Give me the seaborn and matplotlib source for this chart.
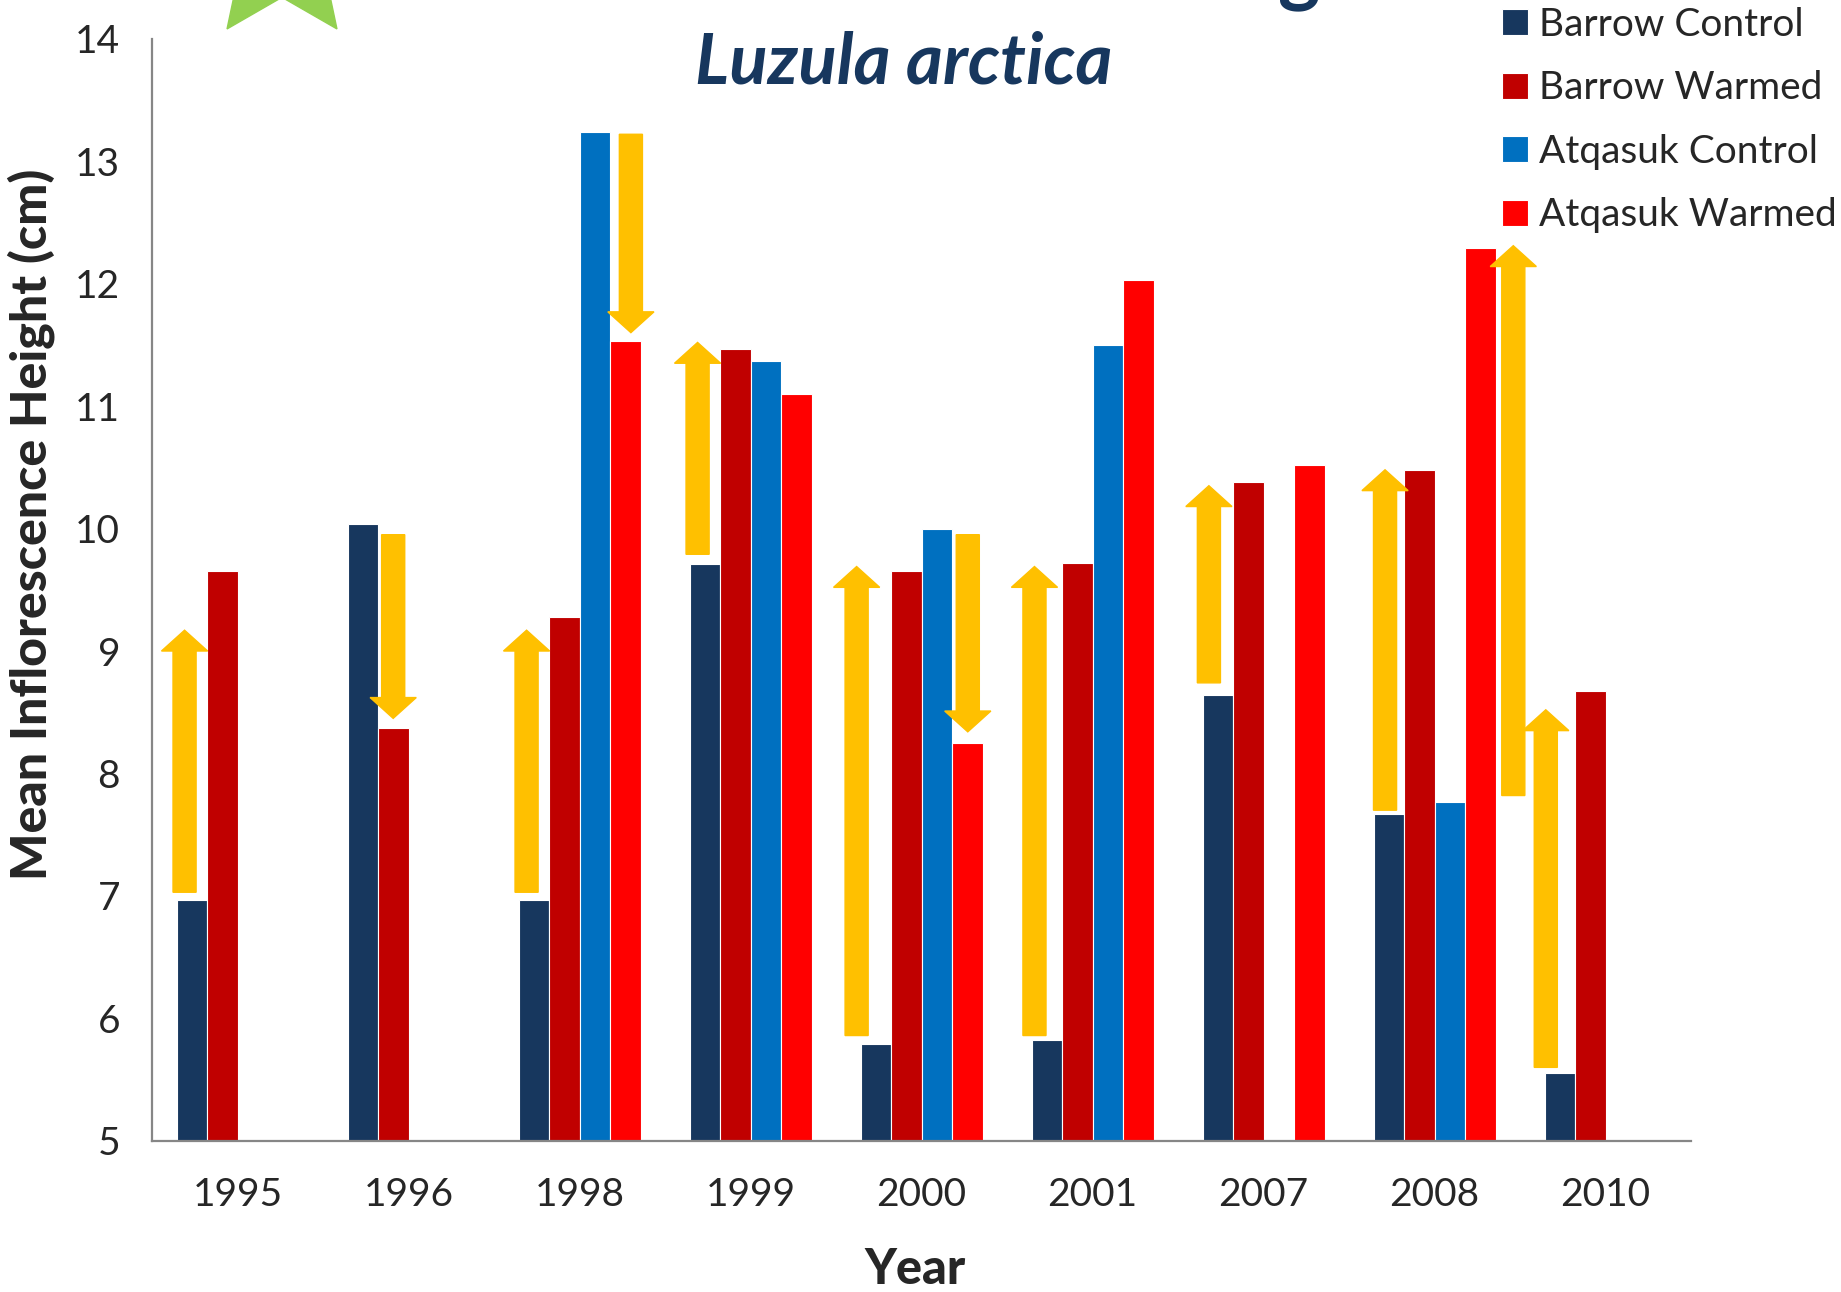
import numpy as np
import pandas as pd
import seaborn as sns
import matplotlib.pyplot as plt
from matplotlib.patches import Polygon

years = ["1995", "1996", "1998", "1999", "2000", "2001", "2007", "2008", "2010"]
treatments = ["Barrow Control", "Barrow Warmed", "Atqasuk Control", "Atqasuk Warmed"]
barrow_control = [6.97, 10.04, 6.97, 9.71, 5.79, 5.82, 8.64, 7.67, 5.55]
barrow_warmed = [9.65, 8.37, 9.28, 11.47, 9.65, 9.72, 10.38, 10.48, 8.67]
atqasuk_control = [np.nan, np.nan, 13.24, 11.37, 10.00, 11.50, np.nan, 7.77, np.nan]
atqasuk_warmed = [np.nan, np.nan, 11.53, 11.10, 8.25, 12.03, 10.52, 12.29, np.nan]
colors = ["#17375E", "#C00000", "#0070C0", "#FF0000"]

# yellow arrows: year index, offset inside the year group, start, end
arrow_year = [0, 1, 2, 2, 3, 4, 4, 5, 6, 7, 7, 8]
arrow_offset = [-0.31, -0.09, -0.31, 0.30, -0.31, -0.38, 0.27, -0.34, -0.32, -0.29, 0.46, -0.35]
arrow_from = [7.03, 9.95, 7.03, 13.22, 9.79, 5.86, 9.95, 5.86, 8.74, 7.70, 7.82, 5.60]
arrow_to = [9.17, 8.45, 9.17, 11.60, 11.52, 9.69, 8.34, 9.69, 10.35, 10.48, 12.31, 8.52]

df = pd.DataFrame({
    "Year": years * 4,
    "Treatment": np.repeat(treatments, len(years)),
    "Height": barrow_control + barrow_warmed + atqasuk_control + atqasuk_warmed,
}).dropna()

sns.set_style("white")
plt.rcParams["font.family"] = ["Lato", "DejaVu Sans"]

fig = plt.figure(figsize=(18.41, 12.92), dpi=100)
ax = fig.add_axes([0.0826, 0.117, 0.836, 0.853])

sns.barplot(data=df, x="Year", y="Height", hue="Treatment", order=years,
            hue_order=treatments, palette=colors, saturation=1, width=0.713,
            edgecolor="white", linewidth=0.8, errorbar=None, ax=ax)

for i, off, y0, y1 in zip(arrow_year, arrow_offset, arrow_from, arrow_to):
    ax.arrow(i + off, y0, 0, y1 - y0, width=0.135, head_width=0.27,
             head_length=0.17, length_includes_head=True,
             color="#FFC000", zorder=5)

ax.set_xlim(-0.5, 8.5)
ax.set_ylim(5, 14)
ax.set_yticks(range(5, 15))
sns.despine(ax=ax)
for s in ["left", "bottom"]:
    ax.spines[s].set_color("#868686")
    ax.spines[s].set_linewidth(1.6)
ax.tick_params(axis="y", length=9, width=1.6, color="#868686", labelsize=28, pad=14)
ax.tick_params(axis="x", length=0, labelsize=28, pad=26)
ax.set_xlabel("Year", fontsize=35, fontweight="black")
ax.set_ylabel("Mean Inflorescence Height (cm)", fontsize=36, fontweight="black")
ax.xaxis.set_label_coords(0.4955, -0.096)
ax.yaxis.set_label_coords(-0.063, 0.559)

handles, labels = ax.get_legend_handles_labels()
ax.get_legend().remove()
fig.legend(handles, labels, loc="upper left", bbox_to_anchor=(0.797, 1.022),
           frameon=False, fontsize=28, handlelength=0.65, handleheight=0.65,
           handletextpad=0.3, labelspacing=0.71)

fig.text(0.491, 0.951, "Luzula arctica", fontsize=51, fontweight="bold",
         fontstyle="italic", color="#17375E", ha="center", va="center")

# cropped slide decorations at the top edge
fig.text(0.706, 1 + 4 / 1292, "g", fontsize=58, fontweight="bold",
         color="#17375E", ha="center", va="baseline")
ang_out = np.deg2rad(90 + 72 * np.arange(5))
ang_in = ang_out + np.deg2rad(36)
pts = []
for a, b in zip(ang_out, ang_in):
    pts.append((282 + 93.5 * np.cos(a), 1292 + 46.7 + 93.5 * np.sin(a)))
    pts.append((282 + 44 * np.cos(b), 1292 + 46.7 + 44 * np.sin(b)))
pts = [(x / 1841, y / 1292) for x, y in pts]
fig.patches.append(Polygon(pts, closed=True, color="#92D050",
                           transform=fig.transFigure, figure=fig))

fig.savefig("out.png", dpi=100)
